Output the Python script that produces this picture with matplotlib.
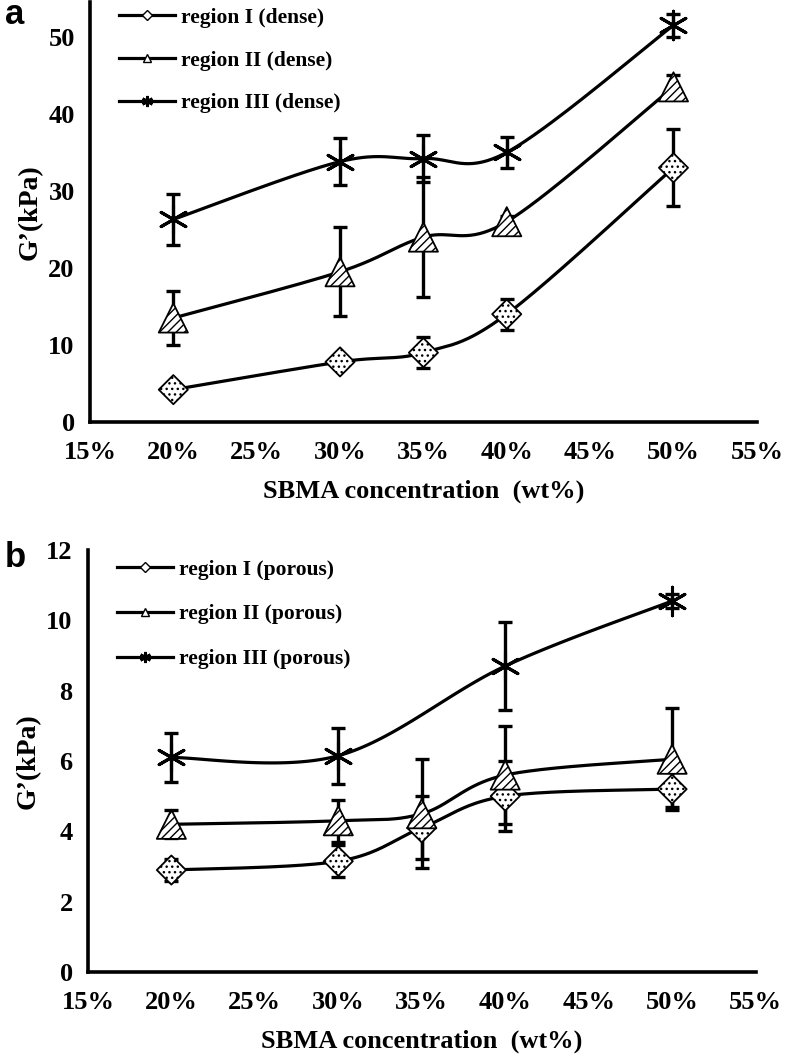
import numpy as np
import matplotlib
matplotlib.use("Agg")
import matplotlib.pyplot as plt
from matplotlib.lines import Line2D
from matplotlib.ticker import PercentFormatter, MultipleLocator

# ---------------- data ----------------
conc = [0.20, 0.30, 0.35, 0.40, 0.50]

dense_I = [4.2, 7.8, 9.0, 14.0, 33.0]
dense_I_err = [0.4, 0.4, 2.0, 2.0, 5.0]
dense_II = [13.5, 19.5, 24.0, 26.0, 43.5]
dense_II_err = [3.5, 5.8, 7.8, 0.8, 1.5]
dense_III = [26.3, 33.8, 34.2, 35.0, 51.5]
dense_III_err = [3.3, 3.0, 3.1, 2.0, 1.5]

conc_III_porous = [0.20, 0.30, 0.40, 0.50]
porous_I = [2.9, 3.15, 4.1, 5.0, 5.2]
porous_I_err = [0.3, 0.45, 0.9, 1.0, 0.5]
porous_II = [4.2, 4.3, 4.5, 5.6, 6.05]
porous_II_err = [0.4, 0.6, 1.55, 1.4, 1.45]
porous_III = [6.1, 6.15, 8.7, 10.55]
porous_III_err = [0.7, 0.8, 1.25, 0.2]

labels_a = ["region I (dense)", "region II (dense)", "region III (dense)"]
labels_b = ["region I (porous)", "region II (porous)", "region III (porous)"]

SERIF = ["Liberation Serif", "DejaVu Serif"]
plt.rcParams["hatch.linewidth"] = 1.0
STAR = (6, 2, 0)


def smooth(ax, x, y, n=40):
    """Excel-like smoothed line (Catmull-Rom Bezier) computed in display space."""
    pts = ax.transData.transform(np.column_stack([x, y]))
    P = np.vstack([pts[0], pts, pts[-1]])
    out = []
    for i in range(1, len(P) - 2):
        p0, p1, p2, p3 = P[i - 1], P[i], P[i + 1], P[i + 2]
        c1 = p1 + (p2 - p0) / 6.0
        c2 = p2 - (p3 - p1) / 6.0
        t = np.linspace(0, 1, n)[:, None]
        seg = ((1 - t) ** 3) * p1 + 3 * ((1 - t) ** 2) * t * c1 + 3 * (1 - t) * t ** 2 * c2 + t ** 3 * p2
        out.append(seg)
    out = np.vstack(out)
    return ax.transData.inverted().transform(out)


def draw_series(ax, x, y, err, kind):
    c = smooth(ax, x, y)
    ax.plot(c[:, 0], c[:, 1], color="black", lw=2.3, zorder=2, solid_capstyle="round")
    ax.errorbar(x, y, yerr=err, fmt="none", ecolor="black", elinewidth=2.4,
                capsize=5, capthick=2.4, zorder=3)
    if kind == "I":
        ax.scatter(x, y, marker="D", s=220, facecolor="white", edgecolor="black",
                   linewidths=1.3, hatch="...", zorder=4)
    elif kind == "II":
        ax.scatter(x, y, marker="^", s=440, facecolor="white", edgecolor="black",
                   linewidths=1.3, hatch="////", zorder=4)
    else:
        ax.scatter(x, y, marker=STAR, s=420, color="black", linewidths=2.2, zorder=4)


def style_axes(ax, ymax, ystep):
    ax.set_xlim(0.15, 0.55)
    ax.set_ylim(0, ymax)
    ax.xaxis.set_major_locator(MultipleLocator(0.05))
    ax.yaxis.set_major_locator(MultipleLocator(ystep))
    ax.xaxis.set_major_formatter(PercentFormatter(1.0, decimals=0))
    for s in ["top", "right"]:
        ax.spines[s].set_visible(False)
    for s in ["left", "bottom"]:
        ax.spines[s].set_linewidth(2.6)
    ax.tick_params(length=0, labelsize=19, pad=11)
    ax.tick_params(axis="x", pad=14)
    for lab in ax.get_xticklabels() + ax.get_yticklabels():
        lab.set_fontfamily(SERIF)
        lab.set_fontweight("bold")
    ax.set_xlabel("SBMA concentration  (wt%)", fontsize=19, fontweight="bold",
                  family=SERIF, labelpad=11)
    ax.set_ylabel("G\u2019(kPa)", fontsize=20, fontweight="bold", family=SERIF, labelpad=4)


def legend(ax, labels, top, spacing):
    handles = [
        Line2D([], [], color="black", lw=2.3, marker="D", ms=5, mfc="white", mec="black"),
        Line2D([], [], color="black", lw=2.3, marker="^", ms=6, mfc="white", mec="black"),
        Line2D([], [], color="black", lw=2.3, marker=STAR, ms=8, mec="black", mew=2),
    ]
    ax.legend(handles, labels, loc="upper left", bbox_to_anchor=(0.027, top),
              frameon=False, borderpad=0, handlelength=2.6, handletextpad=0.3,
              labelspacing=spacing, prop={"family": SERIF, "weight": "bold", "size": 15.5})


fig = plt.figure(figsize=(7.92, 10.63), dpi=100)
axa = fig.add_axes([0.1136, 0.603, 0.842, 0.395])
axb = fig.add_axes([0.111, 0.0856, 0.843, 0.397])

style_axes(axa, 54.5, 10)
style_axes(axb, 12, 2)
fig.canvas.draw()

draw_series(axa, conc, dense_I, dense_I_err, "I")
draw_series(axa, conc, dense_II, dense_II_err, "II")
draw_series(axa, conc, dense_III, dense_III_err, "III")

draw_series(axb, conc, porous_I, porous_I_err, "I")
draw_series(axb, conc, porous_II, porous_II_err, "II")
draw_series(axb, conc_III_porous, porous_III, porous_III_err, "III")

legend(axa, labels_a, 1.012, 1.05)
legend(axb, labels_b, 1.003, 1.15)

fig.text(0.006, 0.977, "a", fontsize=25, fontweight="bold", family=["Liberation Sans", "DejaVu Sans"])
fig.text(0.006, 0.467, "b", fontsize=25, fontweight="bold", family=["Liberation Sans", "DejaVu Sans"])

fig.savefig("out.png", dpi=100)
